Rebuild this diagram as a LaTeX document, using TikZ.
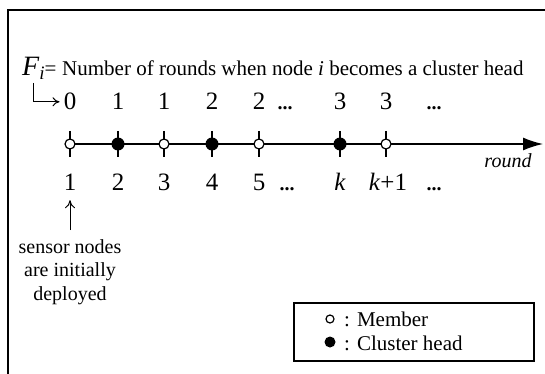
\documentclass[tikz,border=0pt]{standalone}
\usepackage{fontspec}
\setmainfont{Liberation Serif}
\usetikzlibrary{arrows.meta}
\begin{document}
\begin{tikzpicture}[x=1pt,y=-1pt,
  num/.style={inner sep=0, anchor=base, font=\fontsize{25}{28}\selectfont},
  dots/.style={inner sep=0, anchor=base, font=\fontsize{20}{24}\selectfont\bfseries},
  txt/.style={inner sep=0, font=\fontsize{21}{25}\selectfont},
  mem/.style={circle, draw, fill=white, line width=1.2pt, minimum size=10pt, inner sep=0},
  chd/.style={circle, fill=black, minimum size=13pt, inner sep=0},
  tickl/.style={line width=1.3pt},
  thin/.style={line width=1pt},
]
\useasboundingbox (0,0) rectangle (545,374);
% outer frame
\draw[line width=2pt] (8,380) -- (8,10) -- (552,10);

% header
\node[inner sep=0, anchor=base west] (F) at (22,76)
  {{\fontsize{28}{30}\selectfont\itshape F}\raisebox{-4pt}{\fontsize{19}{20}\selectfont\itshape i}{\fontsize{21}{25}\selectfont=}};
\node[txt, anchor=base west] (def) at (62,76) {Number of rounds when node \textit{i} becomes a cluster head};

% positions
\foreach \n/\x in {1/70,2/118,3/164,4/212,5/259,6/340,7/386}{
  \coordinate (p\n) at (\x,144);
  \draw[tickl] (\x,131) -- (\x,157);
}
\coordinate (aend) at (543,144);
\draw[line width=1.5pt, -{Latex[length=20pt,width=13pt]}] (p1) -- (aend);

% dots
\node[mem] (d1) at (p1) {};
\node[chd] (d2) at (p2) {};
\node[mem] (d3) at (p3) {};
\node[chd] (d4) at (p4) {};
\node[mem] (d5) at (p5) {};
\node[chd] (d6) at (p6) {};
\node[mem] (d7) at (p7) {};

% top numbers
\node[num] (t1) at (70,110) {0};
\node[num] (t2) at (118,110) {1};
\node[num] (t3) at (164,110) {1};
\node[num] (t4) at (212,110) {2};
\node[num] (t5) at (259,110) {2};
\node[dots] (te1) at (285,110) {...};
\node[num] (t6) at (340,110) {3};
\node[num] (t7) at (386,110) {3};
\node[dots] (te2) at (434,110) {...};

% elbow arrow
\coordinate (eb) at (33,83);
\draw[thin, -{To[length=7pt,width=9pt]}, shorten >=4pt] (eb) |- (t1.west);

% bottom numbers
\node[num] (b1) at (70,190) {1};
\node[num] (b2) at (118,190) {2};
\node[num] (b3) at (164,190) {3};
\node[num] (b4) at (212,190) {4};
\node[num] (b5) at (259,190) {5};
\node[dots] (be1) at (287,190) {...};
\node[num] (b6) at (340,190) {\textit{k}};
\node[num] (b7) at (388,190) {\textit{k}+1};
\node[dots] (be2) at (434,190) {...};

\node[inner sep=0, anchor=base, font=\fontsize{20}{24}\selectfont\itshape] (rd) at (508,167) {round};

% sensor note
\node[inner sep=0, anchor=north, align=center, font=\fontsize{20}{23.5}\selectfont] (s) at (70,239)
  {sensor nodes\\are initially\\deployed};
\draw[thin, -{To[length=8pt,width=10pt]}, shorten <=9pt, shorten >=10pt] (s.north) -- (b1.south);

% legend
\node[draw, line width=1.5pt, minimum width=240pt, minimum height=58pt, anchor=north west, inner sep=0] (leg) at (293,302) {};
\node[circle, draw, line width=1.2pt, minimum size=8pt, inner sep=0] (lm) at (330,319) {};
\node[circle, fill=black, minimum size=11pt, inner sep=0] (lc) at (330,342) {};
\node[inner sep=0, anchor=base west, font=\fontsize{21}{25}\selectfont] (lmt) at (344,326) {: Member};
\node[inner sep=0, anchor=base west, font=\fontsize{21}{25}\selectfont] (lct) at (344,350) {: Cluster head};
\end{tikzpicture}
\end{document}
